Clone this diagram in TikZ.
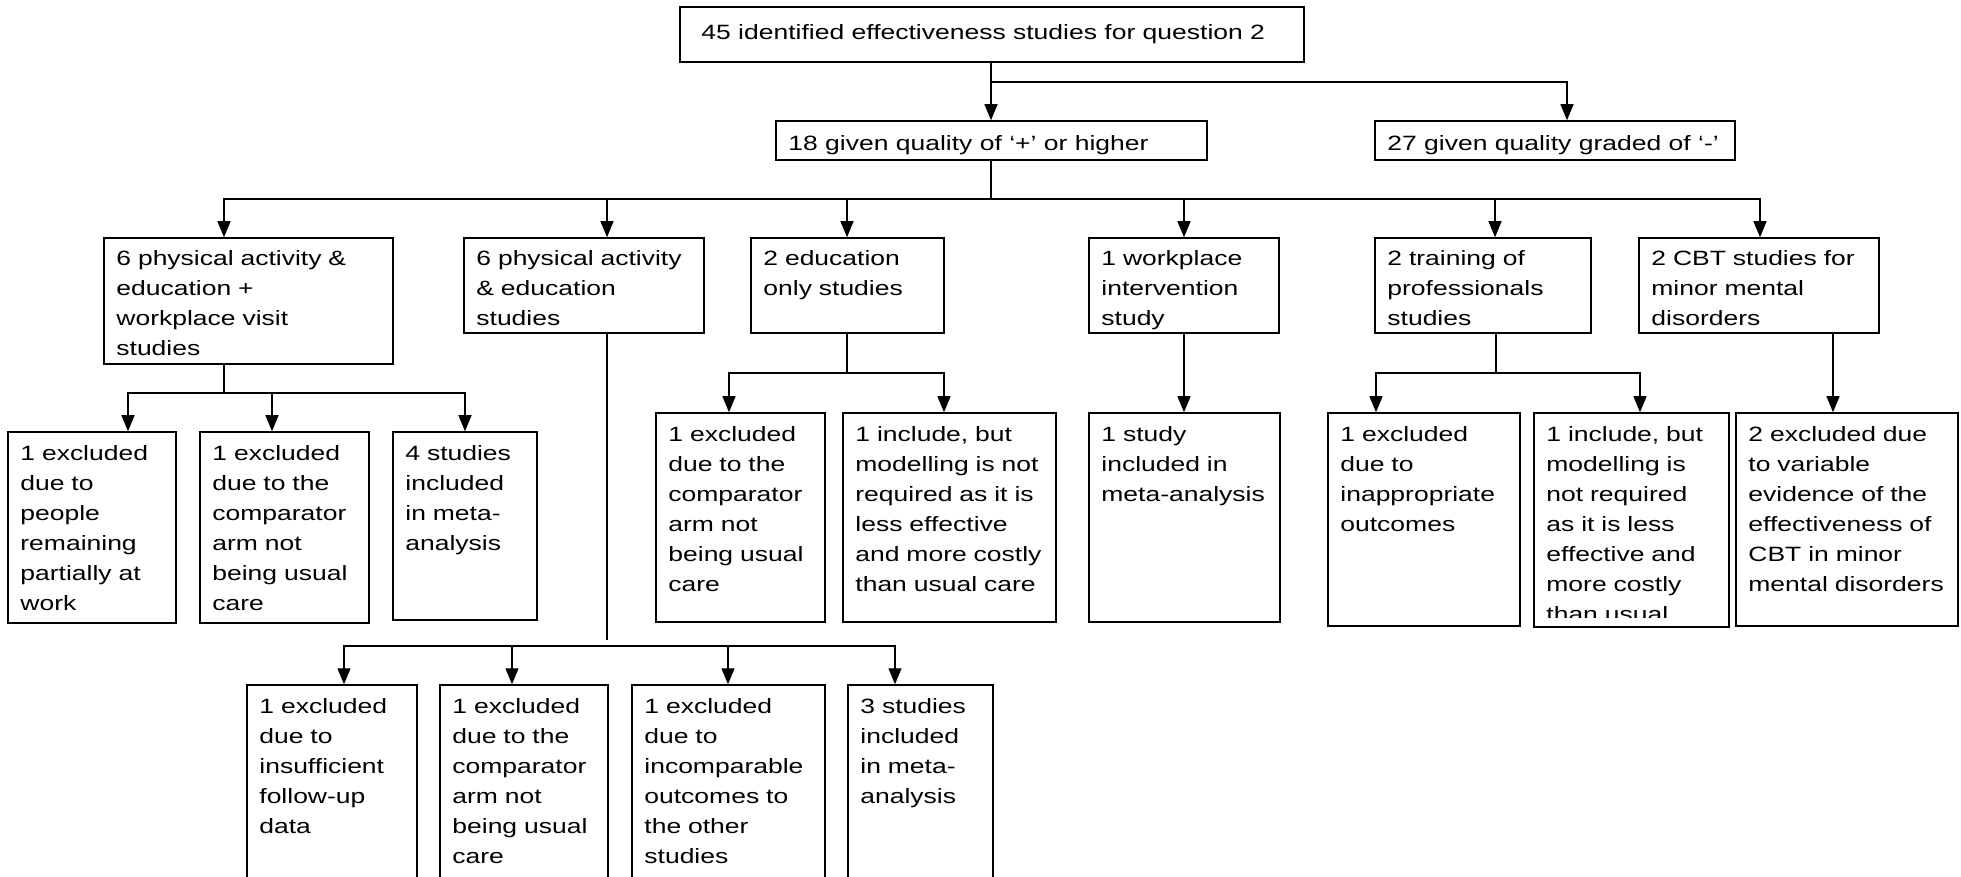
\documentclass[tikz,border=0pt]{standalone}
\usepackage{fontspec}
\setmainfont{Liberation Sans}[FakeStretch=1.28]
\usetikzlibrary{arrows.meta,fit}
\newcommand\fs{\fontsize{10.35pt}{15pt}\selectfont}
% box with its label: name, left, top, right, bottom, text
\newcommand\flowbox[6]{%
  \node[box, fit={(#2,#3) (#4,#5)}] (#1) {};
  \node[lbl, text width={(#4-#2-12)*0.5pt}] (#1-t) at (#2+12,#3+28) {#6};
}
\begin{document}
\begin{tikzpicture}[x=0.5pt, y=-0.5pt,
  box/.style={draw, line width=0.75pt, inner sep=0pt},
  lbl/.style={anchor=base west, inner sep=0pt, align=left, font=\fs},
  link/.style={line width=0.6pt},
  arr/.style={link, -{Triangle[length=8pt,width=6.5pt]}}]
\useasboundingbox (0,0) rectangle (1961,877);
\clip (0,0) rectangle (1961,877);

% top levels
\node[box, fit={(680,7) (1304,62)}] (t) {};
\node[lbl] (t-t) at (701,40) {45 identified effectiveness studies for question 2};
\node[box, fit={(776,121) (1207,160)}] (q1) {};
\node[lbl] (q1-t) at (788,151) {18 given quality of ‘+’ or higher};
\node[box, fit={(1375,121) (1735,160)}] (q2) {};
\node[lbl] (q2-t) at (1387,151) {27 given quality graded of ‘-’};

% intervention groups
\flowbox{a}{104}{238}{393}{364}{6 physical activity \&\\education +\\workplace visit\\studies}
\flowbox{b}{464}{238}{704}{333}{6 physical activity\\\& education\\studies}
\flowbox{c}{751}{238}{944}{333}{2 education\\only studies}
\flowbox{d}{1089}{238}{1279}{333}{1 workplace\\intervention\\study}
\flowbox{e}{1375}{238}{1591}{333}{2 training of\\professionals\\studies}
\flowbox{f}{1639}{238}{1879}{333}{2 CBT studies for\\minor mental\\disorders}

% outcomes of each group
\flowbox{a1}{8}{432}{176}{623}{1 excluded\\due to\\people\\remaining\\partially at\\work}
\flowbox{a2}{200}{432}{369}{623}{1 excluded\\due to the\\comparator\\arm not\\being usual\\care}
\flowbox{a3}{393}{432}{537}{620}{4 studies\\included\\in meta-\\analysis}
\flowbox{c1}{656}{413}{825}{622}{1 excluded\\due to the\\comparator\\arm not\\being usual\\care}
\flowbox{c2}{843}{413}{1056}{622}{1 include, but\\modelling is not\\required as it is\\less effective\\and more costly\\than usual care}
\flowbox{d1}{1089}{413}{1280}{622}{1 study\\included in\\meta-analysis}
\flowbox{e1}{1328}{413}{1520}{626}{1 excluded\\due to\\inappropriate\\outcomes}
% this box's text overruns its frame and is cut off at the bottom
\node[box, fit={(1534,413) (1729,627)}] (e2) {};
\begin{scope}
  \clip (1534,413) rectangle (1729,617);
  \node[lbl, text width=92pt] (e2-t) at (1546,441) {1 include, but\\modelling is\\not required\\as it is less\\effective and\\more costly\\than usual};
\end{scope}
\flowbox{f1}{1736}{413}{1958}{626}{2 excluded due\\to variable\\evidence of the\\effectiveness of\\CBT in minor\\mental disorders}

\flowbox{b1}{247}{685}{417}{900}{1 excluded\\due to\\insufficient\\follow-up\\data}
\flowbox{b2}{440}{685}{608}{900}{1 excluded\\due to the\\comparator\\arm not\\being usual\\care}
\flowbox{b3}{632}{685}{825}{900}{1 excluded\\due to\\incomparable\\outcomes to\\the other\\studies}
\flowbox{b4}{848}{685}{993}{900}{3 studies\\included\\in meta-\\analysis}

% junction points on the horizontal bars
\coordinate (tjoin) at (991,82);
\coordinate (qjoin) at (991,199);
\coordinate (ajoin) at (224,393);
\coordinate (bjoin) at (607,640);
\coordinate (bbar) at (607,646);
\coordinate (cjoin) at (847,373);
\coordinate (ejoin) at (1496,373);

% connectors
\draw[arr] (t.south -| tjoin) -- (q1.north -| tjoin);
\draw[arr] (tjoin) -| (q2.north -| 1567,0);

\draw[link] (q1.south -| qjoin) -- (qjoin);
\draw[arr] (qjoin) -| (a.north -| 224,0);
\draw[arr] (qjoin) -| (b.north -| 607,0);
\draw[arr] (qjoin) -| (c.north -| 847,0);
\draw[arr] (qjoin) -| (d.north -| 1184,0);
\draw[arr] (qjoin) -| (e.north -| 1495,0);
\draw[arr] (qjoin) -| (f.north -| 1760,0);

\draw[link] (a.south -| ajoin) -- (ajoin);
\draw[arr] (ajoin) -| (a1.north -| 128,0);
\draw[arr] (ajoin) -| (a2.north -| 272,0);
\draw[arr] (ajoin) -| (a3.north -| 465,0);

\draw[link] (b.south -| bjoin) -- (bjoin);
\draw[arr] (bbar) -| (b1.north -| 344,0);
\draw[arr] (bbar) -| (b2.north -| 512,0);
\draw[arr] (bbar) -| (b3.north -| 728,0);
\draw[arr] (bbar) -| (b4.north -| 895,0);

\draw[link] (c.south -| cjoin) -- (cjoin);
\draw[arr] (cjoin) -| (c1.north -| 729,0);
\draw[arr] (cjoin) -| (c2.north -| 944,0);

\draw[arr] (d.south -| 1184,0) -- (d1.north -| 1184,0);

\draw[link] (e.south -| ejoin) -- (ejoin);
\draw[arr] (ejoin) -| (e1.north -| 1376,0);
\draw[arr] (ejoin) -| (e2.north -| 1640,0);

\draw[arr] (f.south -| 1833,0) -- (f1.north -| 1833,0);
\end{tikzpicture}
\end{document}
